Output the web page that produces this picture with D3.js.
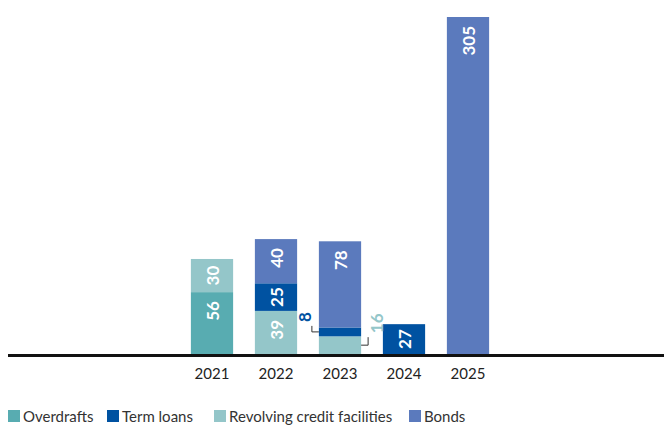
<!DOCTYPE html>
<meta charset="utf-8">
<script src="https://d3js.org/d3.v7.min.js"></script>
<style>
  body { margin: 0; background: #fff; }
  text { font-family: Lato, "Open Sans", sans-serif; }
</style>
<div id="chart"></div>
<script>
  // data
  const years = ["2021", "2022", "2023", "2024", "2025"];
  const overdrafts = [56, 0, 0, 0, 0];
  const termLoans = [0, 25, 8, 27, 0];
  const revolving = [30, 39, 16, 0, 0];
  const bonds = [0, 40, 78, 0, 305];

  const seriesNames = ["Overdrafts", "Term loans", "Revolving credit facilities", "Bonds"];
  const seriesColors = ["#58acb1", "#0052a1", "#94c6c9", "#5b7abd"];

  const width = 664, height = 427;
  const baseY = 354;

  const table = years.map((y, i) => ({
    year: y,
    "Overdrafts": overdrafts[i],
    "Term loans": termLoans[i],
    "Revolving credit facilities": revolving[i],
    "Bonds": bonds[i]
  }));

  // stacking order bottom -> top
  const stackKeys = ["Overdrafts", "Revolving credit facilities", "Term loans", "Bonds"];
  const stacked = d3.stack().keys(stackKeys)(table);

  const color = d3.scaleOrdinal().domain(seriesNames).range(seriesColors);

  const x = d3.scaleBand()
    .domain(years)
    .range([180, 500])
    .paddingInner(0.34)
    .paddingOuter(0.17);

  const y = d3.scaleLinear()
    .domain([0, 305])
    .range([baseY, 17]);

  const svg = d3.select("#chart").append("svg")
    .attr("width", width)
    .attr("height", height);

  // bars
  const layers = svg.append("g").selectAll("g")
    .data(stacked)
    .join("g")
      .attr("fill", d => color(d.key));

  layers.selectAll("rect")
    .data(d => d.filter(s => s[1] - s[0] > 0))
    .join("rect")
      .attr("x", d => x(d.data.year))
      .attr("width", x.bandwidth())
      .attr("y", d => y(d[1]))
      .attr("height", d => y(d[0]) - y(d[1]));

  // segments too small for inner labels get a callout
  const callouts = {"Term loans": "left", "Revolving credit facilities": "right"};

  stacked.forEach(layer => {
    layer.forEach(s => {
      const v = s[1] - s[0];
      if (v <= 0) return;
      const top = y(s[1]), bot = y(s[0]);
      const h = bot - top;
      const cx = x(s.data.year) + x.bandwidth() / 2;
      if (h >= 22) {
        const t = svg.append("text")
          .attr("fill", "#fff")
          .attr("font-weight", "bold")
          .attr("font-size", 17)
          .attr("text-anchor", "end")
          .attr("dominant-baseline", "central")
          .text(v);
        const len = t.node().getComputedTextLength();
        const off = Math.max(3, Math.min(9, (h - len) / 2));
        t.attr("transform", `translate(${cx},${top + off}) rotate(-90)`);
      } else {
        const side = callouts[layer.key];
        const midY = (top + bot) / 2;
        const edge = side === "left" ? x(s.data.year) : x(s.data.year) + x.bandwidth();
        const lx = side === "left" ? edge - 7 : edge + 7;
        const rise = side === "left" ? 6 : 8;
        svg.append("path")
          .attr("d", `M${edge},${midY}H${lx}V${midY - rise}`)
          .attr("fill", "none")
          .attr("stroke", "#333")
          .attr("stroke-width", 1);
        svg.append("text")
          .attr("fill", color(layer.key))
          .attr("font-weight", "bold")
          .attr("font-size", 17)
          .attr("text-anchor", "start")
          .attr("dominant-baseline", "central")
          .attr("transform", `translate(${side === "left" ? lx - 7 : lx + 8},${midY - rise - 4}) rotate(-90)`)
          .text(v);
      }
    });
  });

  // baseline
  svg.append("line")
    .attr("x1", 8).attr("x2", width)
    .attr("y1", baseY + 1.5).attr("y2", baseY + 1.5)
    .attr("stroke", "#111")
    .attr("stroke-width", 3);

  // year axis
  const axis = svg.append("g")
    .attr("transform", `translate(0,${baseY + 1})`)
    .call(d3.axisBottom(x).tickSize(0).tickPadding(13));
  axis.select(".domain").remove();
  axis.selectAll("text")
    .attr("font-size", 15)
    .attr("fill", "#222")
    .style("font-family", "Lato, 'Open Sans', sans-serif");

  // legend
  const legendX = [8, 107, 214, 409];
  const legend = svg.append("g").selectAll("g")
    .data(seriesNames)
    .join("g")
      .attr("transform", (d, i) => `translate(${legendX[i]},410)`);
  legend.append("rect")
    .attr("width", 12).attr("height", 12)
    .attr("fill", d => color(d));
  legend.append("text")
    .attr("x", 15).attr("y", 12)
    .attr("font-size", 15)
    .attr("fill", "#333")
    .text(d => d);
</script>
